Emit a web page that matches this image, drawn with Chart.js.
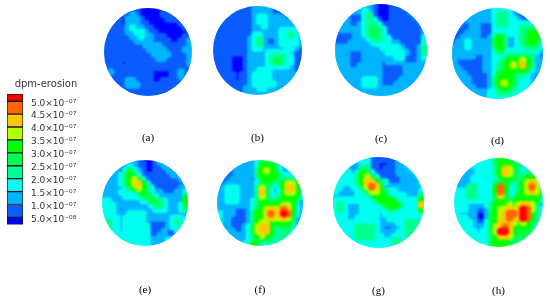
<!DOCTYPE html>
<html>
<head>
<meta charset="utf-8">
<style>
body { margin: 0; background: #fff; }
canvas { position: absolute; }
</style>
<script src="https://cdn.jsdelivr.net/npm/chart.js@4"></script>
</head>
<body>
<script>
// contour band of each disc, one char per cell (a = top band)
const discA = ["11111111000001111111","11111121000001111111","11110222100000111111","11110222110000000111","11111232211000000011","11111223321100000001","11111122322111000011","11111112222111100112","11111111122221111112","11111111112222111122","11111111111222211112","11111111111122111112","11110111111111111112","11111111111111111111","12111111111000011211","11111111111000011211","11111221111001111111","11111222111111111111","11111111111111111111","11111111111111111111"];
const discB = ["11111111122221111111","11111111122221101111","11111111123322221122","11111111123322222222","11111111122322222222","11111111122222233332","11111111133222233432","11111111234211233332","11111111234211233332","11111111233222223321","11111111222233333211","11110001222234443311","11110001222234543311","11110001222233333211","11110001223332222211","11111011233332222222","11111011233332222222","11111111233333222222","11111112223322222222","11111112222222222222"];
const discC = ["22222222100011122222","22222232100011112222","22211134100011111222","22211134310011111122","22211234431111111112","22222234543111111112","11112234543111111112","11112223443311111113","11122222333322111113","22222222223333211124","22211122222333321124","22211122222223311123","22211122221222211122","22211222221111122222","22222222221111122222","22222222221111122222","22222233321111222222","22222233321112221222","22222222222222222222","22222222222222222222"];
const discD = ["22222222233332222222","22222222234432112222","22222222234433211222","22112211134433333333","21112211133333344443","11122211133333345664","11222211246422345664","12232222256422345653","22232222246422334443","22222222235333333332","22222112233344444421","21111112233466676422","21111112234567686422","22111112234566565322","22211111235664443222","22221111246665333222","22221111246765333222","22222111235654333222","22222222334443333322","22222222333333333222"];
const discE = ["22222222110012222222","22222232110011222222","22221353210011122222","22223464311111112222","22223467531111111122","22223467863111111112","22222346764311111122","22223333464322111223","22222333345432222225","33222222233554322226","33322222222344322235","33321222222233322234","33322233332222222222","33332333332222223332","34332333332111123432","34332333333111123332","33332333333111211322","33333333333112211222","33333333333222233322","33333333333222222222"];
const discF = ["22222222235553222222","22222222236665311222","22212222246765322222","22112222246666433332","21122222135665444443","21222222235543467764","22333222247532368864","22333222248532357764","22333222247533466653","22333222346544566642","22222222346666677632","22221112356787898632","322211124667988a9632","32211112466787787522","32211112467766666422","32211123578864455322","22221123578864344322","22222223467654444322","22222223455544333322","22222233653333333322"];
const discG = ["33333333111111233333","33322233110011223333","33321244110111222333","33332364311111222233","33333467531111122223","33333468864311122223","33223357985222222222","32222335776433222223","22222333466533332224","33333333346664333336","34322233333566533338","34322233333344333336","33322233332333333333","33322333332233333333","33333333332222334443","33333444432112234443","33333444432222334433","33333444433223332333","33333333333334433333","33333333333333333333"];
const discH = ["33333333356653333333","33333333346665422333","33222333346875433333","31222333346875434443","22223332335665446654","22223333345543467875","22244333369633467975","33344333369633467875","33344333358533566664","33333333356555666663","33322223466676788742","333221124677878a9743","322220025678998a9643","333220025678988a9643","33332113568887676533","33332223578986566433","3333323357aa86555433","33333333468875554333","33333333566655444333","33333333566655433333"];
const discLabels = ["(a)", "(b)", "(c)", "(d)", "(e)", "(f)", "(g)", "(h)"];

const bandColors = ["#0000ff", "#0a5cff", "#00b4ff", "#00fff0", "#00ff90", "#00ff50", "#00ff00", "#b4ff00", "#ffc800", "#ff6400", "#ff0000"];
const bandEdges = [0.22e-7, 0.5e-7, 1e-7, 1.5e-7, 2e-7, 2.5e-7, 3e-7, 3.5e-7, 4e-7, 4.5e-7, 5e-7, 5.28e-7];
const tickValues = [0.5e-7, 1e-7, 1.5e-7, 2e-7, 2.5e-7, 3e-7, 3.5e-7, 4e-7, 4.5e-7, 5e-7];
const tickLabels = ["5.0×10⁻⁰⁸", "1.0×10⁻⁰⁷", "1.5×10⁻⁰⁷", "2.0×10⁻⁰⁷", "2.5×10⁻⁰⁷", "3.0×10⁻⁰⁷", "3.5×10⁻⁰⁷", "4.0×10⁻⁰⁷", "4.5×10⁻⁰⁷", "5.0×10⁻⁰⁷"];

const discs = [discA, discB, discC, discD, discE, discF, discG, discH];
// left, top, diameter, gap down to the caption
const boxes = [[104, 8, 88, 37], [213, 6, 89, 38], [335, 4, 92, 38], [452, 8, 91, 37], [102, 160, 86, 39], [217, 160, 86, 39], [333, 157, 91, 38], [454, 158, 89, 39]];

function addCanvas(left, top, width, height) {
    const canvas = document.createElement('canvas');
    canvas.width = width;
    canvas.height = height;
    canvas.style.left = left + 'px';
    canvas.style.top = top + 'px';
    document.body.appendChild(canvas);
    return canvas;
}

// round clip for the disc, the blur melts the cells into contour shapes
const roundClip = {
    id: 'roundClip',
    beforeDatasetsDraw(chart) {
        const a = chart.chartArea;
        const ctx = chart.ctx;
        ctx.save();
        ctx.beginPath();
        ctx.arc((a.left + a.right) / 2, (a.top + a.bottom) / 2, (a.right - a.left) / 2, 0, Math.PI * 2);
        ctx.clip();
        ctx.filter = 'blur(1.2px)';
    },
    afterDatasetsDraw(chart) {
        chart.ctx.restore();
    }
};

function bandPoints(rows, band) {
    const points = [];
    rows.forEach((row, y) => {
        row.split('').forEach((ch, x) => {
            if (parseInt(ch, 11) === band) points.push({x: x, y: y});
        });
    });
    return points;
}

discs.forEach((rows, i) => {
    const [left, top, size, gap] = boxes[i];
    const cols = rows[0].length;
    // first dataset is painted last, so the high bands go first
    const datasets = bandColors.map((color, band) => ({
        data: bandPoints(rows, band),
        pointStyle: 'circle',
        pointRadius: size / cols * 0.85,
        pointBorderWidth: 0,
        pointBackgroundColor: color,
        showLine: false,
        clip: false
    })).reverse();

    new Chart(addCanvas(left, top, size, size + gap + 11).getContext('2d'), {
        type: 'scatter',
        data: {datasets: datasets},
        plugins: [roundClip],
        options: {
            responsive: false,
            animation: false,
            layout: {padding: 0, autoPadding: false},
            scales: {
                x: {display: false, min: -0.5, max: cols - 0.5},
                y: {display: false, min: -0.5, max: rows.length - 0.5, reverse: true}
            },
            plugins: {
                legend: {display: false},
                tooltip: {enabled: false},
                title: {
                    display: true,
                    position: 'bottom',
                    text: discLabels[i],
                    color: '#000',
                    padding: {top: gap, bottom: 0},
                    font: {family: 'Liberation Serif', size: 11, weight: 'normal', lineHeight: 1}
                }
            }
        }
    });
});

// colour key
new Chart(addCanvas(0, 77, 85, 161).getContext('2d'), {
    type: 'bar',
    data: {
        labels: ['dpm-erosion'],
        datasets: bandColors.map((color, band) => ({
            data: [[bandEdges[band], bandEdges[band + 1]]],
            backgroundColor: color,
            borderColor: '#1a1a1a',
            borderWidth: 1,
            borderSkipped: false,
            barPercentage: 1,
            categoryPercentage: 1,
            grouped: false
        }))
    },
    options: {
        responsive: false,
        animation: false,
        layout: {padding: {left: 7, bottom: 2}, autoPadding: false},
        scales: {
            x: {display: false},
            y: {
                position: 'right',
                min: bandEdges[0],
                max: bandEdges[bandEdges.length - 1],
                grid: {display: false, drawTicks: false},
                border: {display: false},
                afterFit(scale) { scale.width = 62; },
                afterBuildTicks(scale) { scale.ticks = tickValues.map(v => ({value: v})); },
                ticks: {
                    color: '#333',
                    padding: 8,
                    labelOffset: 2,
                    autoSkip: false,
                    font: {family: 'DejaVu Sans', size: 9},
                    callback: (value, index) => tickLabels[index]
                }
            }
        },
        plugins: {
            legend: {display: false},
            tooltip: {enabled: false},
            title: {
                display: true,
                text: 'dpm-erosion',
                color: '#333',
                padding: {top: 2, bottom: 5},
                font: {family: 'DejaVu Sans', size: 10, weight: 'normal', lineHeight: 1}
            }
        }
    }
});
</script>
</body>
</html>
